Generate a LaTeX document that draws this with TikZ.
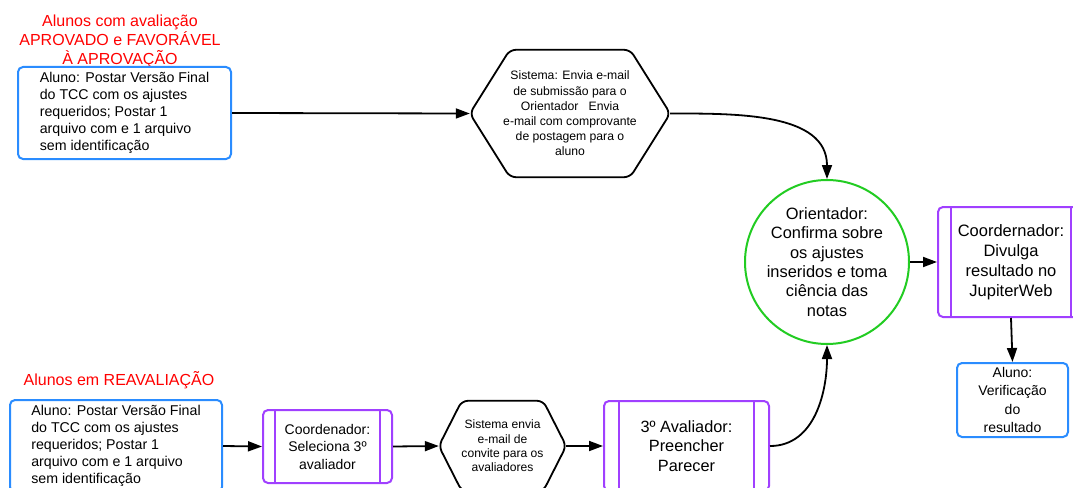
\documentclass[tikz,border=0pt]{standalone}
\usepackage{fontspec}
\setmainfont{Liberation Sans}
\usepackage{xcolor}
\usetikzlibrary{arrows.meta, positioning, calc}

\definecolor{boxblue}{HTML}{2A8CFF}
\definecolor{procpurple}{HTML}{A040FF}
\definecolor{circgreen}{HTML}{22CC22}

\tikzset{
    alunobox/.style={draw=boxblue, line width=2pt, rounded corners=5pt, inner sep=0pt},
    procbox/.style={draw=procpurple, line width=2pt, rounded corners=5pt, inner sep=0pt},
    procline/.style={draw=procpurple, line width=2pt},
    hexbox/.style={inner sep=0pt},
    hexline/.style={draw=black, line width=1.8pt, rounded corners=6pt},
    flow/.style={line width=1.8pt, -{Triangle[length=14pt, width=10pt]}},
    redlabel/.style={text=red, align=center, font=\fontsize{16}{19}\selectfont}
}

\begin{document}
\begin{tikzpicture}[x=1pt, y=-1pt]
    \useasboundingbox (0,0) rectangle (1073,487);
    \clip (0,0) rectangle (1073,487);

    \node[redlabel] (ttop) at (120, 41) {Alunos com avaliação\\APROVADO e FAVORÁVEL\\À APROVAÇÃO};
    \node[redlabel] (tbot) at (119, 380) {Alunos em REAVALIAÇÃO};

    \node[alunobox, minimum width=213pt, minimum height=92pt, align=left,
          font=\fontsize{14.2}{17}\selectfont] (a1) at (124.5, 113)
        {Aluno: Postar Versão Final\\do TCC com os ajustes\\requeridos; Postar 1\\arquivo com e 1 arquivo\\sem identificação};
    \node[alunobox, minimum width=212pt, minimum height=92pt, align=left,
          font=\fontsize{14.2}{17}\selectfont] (a2) at (116, 446)
        {Aluno: Postar Versão Final\\do TCC com os ajustes\\requeridos; Postar 1\\arquivo com e 1 arquivo\\sem identificação};

    \node[hexbox, minimum width=200pt, minimum height=127pt, align=center,
          font=\fontsize{12.2}{15.2}\selectfont] (h1) at (570, 113.5)
        {Sistema: Envia e-mail\\de submissão para o\\Orientador~~~Envia\\e-mail com comprovante\\de postagem para o\\aluno};
    \draw[hexline] (h1.west) -- ([xshift=40pt]h1.north west) -- ([xshift=-40pt]h1.north east)
        -- (h1.east) -- ([xshift=-40pt]h1.south east) -- ([xshift=40pt]h1.south west) -- cycle;

    \node[circle, draw=circgreen, line width=2pt, minimum size=164pt, inner sep=0pt, align=center,
          font=\fontsize{16.4}{19.4}\selectfont] (or) at (827, 262)
        {Orientador:\\Confirma sobre\\os ajustes\\inseridos e toma\\ciência das\\notas};

    \node[procbox, minimum width=146pt, minimum height=110pt, align=center,
          font=\fontsize{16.5}{20}\selectfont] (c1) at (1011, 262)
        {Coordernador:\\Divulga\\resultado no\\JupiterWeb};
    \draw[procline] ([xshift=14pt]c1.north west) -- ([xshift=14pt]c1.south west);
    \draw[procline] ([xshift=-14pt]c1.north east) -- ([xshift=-14pt]c1.south east);

    \node[alunobox, minimum width=111pt, minimum height=74pt, align=center,
          font=\fontsize{14}{18.2}\selectfont] (v1) at (1012.5, 400)
        {Aluno:\\Verificação\\do\\resultado};

    \node[procbox, minimum width=129pt, minimum height=73pt, align=center,
          font=\fontsize{14}{17.5}\selectfont] (c2) at (327.5, 446.5)
        {Coordenador:\\Seleciona 3º\\avaliador};
    \draw[procline] ([xshift=13pt]c2.north west) -- ([xshift=13pt]c2.south west);
    \draw[procline] ([xshift=-13pt]c2.north east) -- ([xshift=-13pt]c2.south east);

    \node[hexbox, minimum width=127pt, minimum height=90pt, align=center,
          font=\fontsize{12.1}{14.4}\selectfont] (h2) at (502.5, 446)
        {Sistema envia\\e-mail de\\convite para os\\avaliadores};
    \draw[hexline] (h2.west) -- ([xshift=23pt]h2.north west) -- ([xshift=-23pt]h2.north east)
        -- (h2.east) -- ([xshift=-23pt]h2.south east) -- ([xshift=23pt]h2.south west) -- cycle;

    \node[procbox, minimum width=165pt, minimum height=90pt, align=center,
          font=\fontsize{16.3}{19.5}\selectfont] (av) at (686.5, 446)
        {3º Avaliador:\\Preencher\\Parecer};
    \draw[procline] ([xshift=16pt]av.north west) -- ([xshift=16pt]av.south west);
    \draw[procline] ([xshift=-16pt]av.north east) -- ([xshift=-16pt]av.south east);

    \draw[flow] (a1.east) -- (h1.west);
    \draw[flow] (h1.east) to[out=0, in=90] (or.north);
    \draw[flow] (or.east) -- (c1.west);
    \draw[flow] (c1.south) -- (v1.north);
    \draw[flow] (a2.east) -- (c2.west);
    \draw[flow] (c2.east) -- (h2.west);
    \draw[flow] (h2.east) -- (av.west);
    \draw[flow] (av.east) to[out=0, in=-90] (or.south);
\end{tikzpicture}
\end{document}
